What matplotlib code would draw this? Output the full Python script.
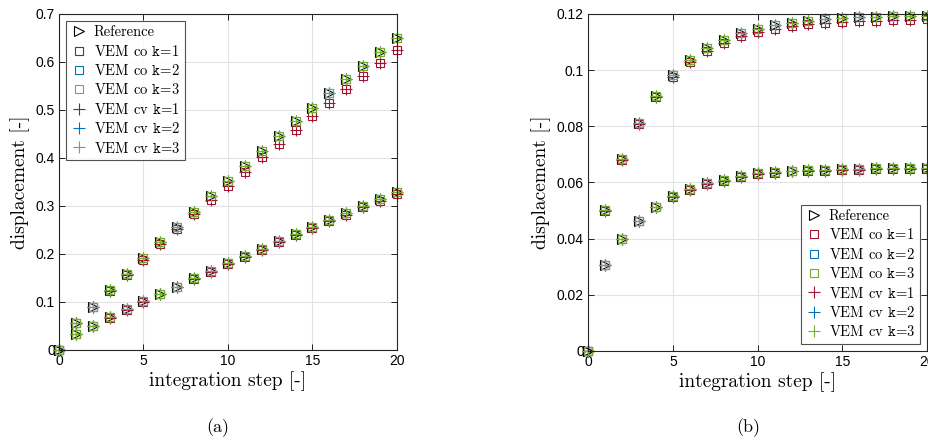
import numpy as np
import matplotlib
matplotlib.use('Agg')
import matplotlib.pyplot as plt

# шаги интегрирования
steps = np.arange(0, 21)

# (a) верхняя кривая
a_up_ref = [0, 0.057, 0.090, 0.125, 0.158, 0.191, 0.224, 0.256, 0.287, 0.320, 0.353,
            0.384, 0.415, 0.446, 0.476, 0.505, 0.535, 0.564, 0.592, 0.621, 0.649]
a_up_k1 = [0, 0.056, 0.089, 0.123, 0.156, 0.188, 0.220, 0.252, 0.284, 0.313, 0.342,
           0.371, 0.401, 0.430, 0.458, 0.488, 0.515, 0.543, 0.571, 0.597, 0.624]
# (a) нижняя кривая
a_lo_ref = [0, 0.033, 0.050, 0.068, 0.085, 0.101, 0.117, 0.132, 0.149, 0.165, 0.181,
            0.196, 0.211, 0.226, 0.242, 0.257, 0.271, 0.285, 0.300, 0.314, 0.329]
a_lo_k1 = [0, 0.033, 0.050, 0.067, 0.084, 0.100, 0.116, 0.131, 0.147, 0.163, 0.179,
           0.194, 0.209, 0.224, 0.240, 0.254, 0.268, 0.282, 0.297, 0.311, 0.325]

# (b) верхняя кривая
b_up_ref = [0, 0.0502, 0.0684, 0.0813, 0.0909, 0.0982, 0.1035, 0.1078, 0.1108, 0.1131, 0.1145,
            0.1159, 0.1169, 0.1176, 0.1182, 0.1185, 0.1188, 0.1190, 0.1193, 0.1194, 0.1194]
b_up_k1 = [0, 0.0500, 0.0680, 0.0808, 0.0903, 0.0975, 0.1027, 0.1069, 0.1098, 0.1120, 0.1134,
           0.1147, 0.1156, 0.1163, 0.1168, 0.1171, 0.1174, 0.1176, 0.1178, 0.1179, 0.1180]
# (b) нижняя кривая
b_lo_ref = [0, 0.0306, 0.0398, 0.0464, 0.0514, 0.0550, 0.0577, 0.0597, 0.0609, 0.0623, 0.0633,
            0.0637, 0.0642, 0.0643, 0.0645, 0.0648, 0.0649, 0.0650, 0.0651, 0.0652, 0.0652]
b_lo_k1 = [0, 0.0305, 0.0397, 0.0462, 0.0512, 0.0548, 0.0574, 0.0594, 0.0606, 0.0620, 0.0630,
           0.0634, 0.0639, 0.0640, 0.0642, 0.0645, 0.0646, 0.0647, 0.0648, 0.0649, 0.0649]

a_yticks = [0, 0.1, 0.2, 0.3, 0.4, 0.5, 0.6, 0.7]
a_ylabels = ['0', '0.1', '0.2', '0.3', '0.4', '0.5', '0.6', '0.7']
b_yticks = [0, 0.02, 0.04, 0.06, 0.08, 0.1, 0.12]
b_ylabels = ['0', '0.02', '0.04', '0.06', '0.08', '0.1', '0.12']
xticks = [0, 5, 10, 15, 20]

labels = ['Reference',
          r'VEM co $\mathtt{k\!=\!1}$', r'VEM co $\mathtt{k\!=\!2}$', r'VEM co $\mathtt{k\!=\!3}$',
          r'VEM cv $\mathtt{k\!=\!1}$', r'VEM cv $\mathtt{k\!=\!2}$', r'VEM cv $\mathtt{k\!=\!3}$']

c_red = '#A2142F'
c_blue = '#0072BD'
c_green = '#77AC30'

plt.rcParams['font.family'] = 'cmr10'
plt.rcParams['mathtext.fontset'] = 'cm'
plt.rcParams['axes.unicode_minus'] = False
plt.rcParams['axes.formatter.use_mathtext'] = True

fig = plt.figure(figsize=(9.29, 4.43), dpi=100)
ax1 = fig.add_axes([0.0635, 0.21, 0.3638, 0.7585])
ax2 = fig.add_axes([0.633, 0.2077, 0.365, 0.761])


def draw(ax, curves, yticks, ylabels, ymax, legloc):
    for i, (ref, k1) in enumerate(curves):
        # подписи в легенду только для первой кривой
        names = labels if i == 0 else ['_nolegend_'] * len(labels)
        kw = dict(linestyle='none', clip_on=False, markeredgewidth=0.8)
        ax.plot(steps, ref, marker='>', color='k', markerfacecolor='none', markersize=7,
                label=names[0], **kw)
        ax.plot(steps, k1, marker='s', color=c_red, markerfacecolor='none', markersize=6,
                label=names[1], **kw)
        ax.plot(steps, ref, marker='s', color=c_blue, markerfacecolor='none', markersize=6,
                label=names[2], **kw)
        ax.plot(steps, ref, marker='s', color=c_green, markerfacecolor='none', markersize=6,
                label=names[3], **kw)
        ax.plot(steps, k1, marker='+', color=c_red, markersize=8, label=names[4], **kw)
        ax.plot(steps, ref, marker='+', color=c_blue, markersize=8, label=names[5], **kw)
        ax.plot(steps, ref, marker='+', color=c_green, markersize=8, label=names[6], **kw)

    ax.set_xlim(0, 20)
    ax.set_ylim(0, ymax)
    ax.set_xticks(xticks)
    ax.set_xticklabels([str(t) for t in xticks], fontfamily='Liberation Sans', fontsize=10)
    ax.set_yticks(yticks)
    ax.set_yticklabels(ylabels, fontfamily='Liberation Sans', fontsize=10)
    ax.tick_params(direction='in', top=True, right=True, length=4, width=0.6, pad=3)
    ax.grid(True, color='#e3e3e3', linewidth=0.8)
    ax.set_axisbelow(True)
    for sp in ax.spines.values():
        sp.set_linewidth(0.8)
        sp.set_color('#262626')
    ax.set_xlabel('integration step [-]', fontsize=14, labelpad=2)
    ax.set_ylabel('displacement [-]', fontsize=14, labelpad=4)
    leg = ax.legend(loc=legloc, fontsize=10.5, frameon=True, fancybox=False,
                    edgecolor='#262626', handletextpad=0.4, handlelength=1.2,
                    borderpad=0.3, labelspacing=0.3, borderaxespad=0.5)
    leg.get_frame().set_linewidth(0.8)


draw(ax1, [(a_up_ref, a_up_k1), (a_lo_ref, a_lo_k1)], a_yticks, a_ylabels, 0.7, 'upper left')
draw(ax2, [(b_up_ref, b_up_k1), (b_lo_ref, b_lo_k1)], b_yticks, b_ylabels, 0.12, 'lower right')

fig.text(218 / 929, 1 - 428 / 443, '(a)', fontsize=13, ha='center', va='center')
fig.text(748 / 929, 1 - 428 / 443, '(b)', fontsize=13, ha='center', va='center')

fig.savefig('out.png', dpi=100)
